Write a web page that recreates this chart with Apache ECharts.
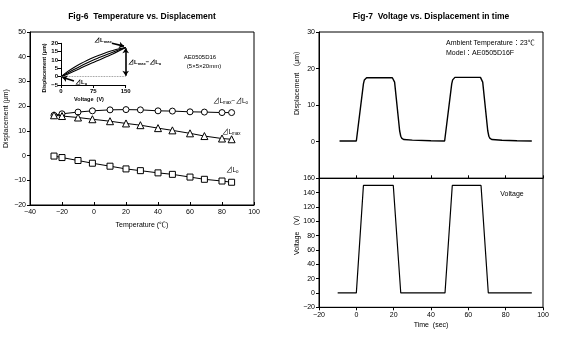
<!DOCTYPE html>
<html><head><meta charset="utf-8">
<script src="https://cdn.jsdelivr.net/npm/echarts@6/dist/echarts.min.js"></script>
<style>html,body{margin:0;padding:0;background:#fff}#c{width:570px;height:359px}</style>
</head><body><div id="c"></div>
<script>
// Fig-6 main: temperature vs displacement
const tempC = [-25,-20,-10,-1,10,20,29,40,49,60,69,80,86];
const dLdiff = [16.3,16.9,17.6,18.1,18.5,18.6,18.5,18.1,18.0,17.7,17.6,17.4,17.4];
const dLmax = [16.3,16.0,15.4,14.7,13.9,13.0,12.3,11.1,10.2,9.0,7.9,6.9,6.6];
const dLo = [-0.2,-0.8,-2.0,-3.1,-4.3,-5.4,-6.1,-7.0,-7.6,-8.7,-9.6,-10.3,-10.8];
// Fig-6 inset: voltage vs displacement (hysteresis)
const insetV = [0,15,30,45,60,75,90,105,120,135,150];
const insetUpper = [0,3.0,5.5,7.7,9.7,11.5,13.0,14.5,15.7,16.7,17.5];
const insetMiddle = [0,2.2,4.3,6.3,8.2,10.0,11.6,13.2,14.7,16.1,17.5];
const insetLower = [0,1.5,3.2,5.0,6.8,8.5,10.2,11.9,13.6,15.5,17.5];
// Fig-7 top: displacement in time
const timeDisp = [-9,0,3.8,4.3,4.8,5.5,19.3,19.9,20.5,23.2,23.8,24.4,25.5,30,40,47.3,51.1,51.6,52.1,52.8,66.5,67.1,67.7,70.4,71.0,71.6,72.7,78,86,94];
const disp = [0.2,0.2,15.8,16.9,17.3,17.5,17.5,17.2,16.3,3.0,1.5,0.9,0.6,0.45,0.25,0.2,15.8,16.9,17.3,17.6,17.6,17.3,16.3,3.0,1.5,0.9,0.6,0.4,0.25,0.2];
// Fig-7 bottom: voltage in time
const timeVolt = [-10,0,3.8,19.8,23.8,47.5,51.4,66.8,70.7,94];
const volt = [0,0,150,150,0,0,150,150,0,0];

const FONT = "'Liberation Sans', Arial, 'Noto Sans CJK JP', sans-serif";
const minus = v => String(v).replace('-', '\u2212');
const pair = (xs, ys) => xs.map((x, i) => [x, ys[i]]);

function axis(o) {
  return Object.assign({
    type: 'value',
    axisLine: {show: true, onZero: false, lineStyle: {color: '#000', width: 1}},
    axisTick: {show: true, inside: false, length: 3, lineStyle: {color: '#000'}},
    splitLine: {show: false},
    axisLabel: {color: '#000', fontSize: 7, fontFamily: FONT, margin: 4, formatter: minus}
  }, o);
}

const chart = echarts.init(document.getElementById('c'), null, {renderer: 'canvas'});
const markerStyle = {color: '#fff', borderColor: '#000', borderWidth: 1};
const lineBlack = {color: '#000', width: 1};
const sub = {
  n: {fontSize: 6.5, fontFamily: FONT, color: '#000'},
  s: {fontSize: 4.5, fontFamily: FONT, color: '#000', padding: [3, 0, 0, 0]}
};
const subB = {
  n: {fontSize: 6, fontFamily: FONT, color: '#000', fontWeight: 'bold'},
  s: {fontSize: 4, fontFamily: FONT, color: '#000', fontWeight: 'bold', padding: [3, 0, 0, 0]}
};
function txt(x, y, text, size, opts) {
  return {type: 'text', x: x, y: y, rotation: (opts && opts.rot) || 0,
    style: Object.assign({text: text, fill: '#000', font: ((opts && opts.bold) ? 'bold ' : '') + size + 'px ' + FONT,
      align: (opts && opts.align) || 'center', verticalAlign: 'middle'}, (opts && opts.rich) ? {rich: opts.rich} : {})};
}
const arrowSeg = (a, b, w) => [
  {coord: a, symbol: 'none', lineStyle: {type: 'solid', color: '#000', width: w}},
  {coord: b, symbol: 'arrow', symbolSize: 5, lineStyle: {type: 'solid', color: '#000', width: w}}
];

chart.setOption({
  animation: false,
  backgroundColor: '#fff',
  grid: [
    {left: 30, top: 32, width: 224, height: 173, show: true, borderColor: '#000', borderWidth: 1, backgroundColor: 'transparent'},
    {left: 61, top: 43.3, width: 64.7, height: 41.7},
    {left: 319, top: 32, width: 224, height: 146.3, show: true, borderColor: '#000', borderWidth: 1, backgroundColor: 'transparent'},
    {left: 319, top: 178.3, width: 224, height: 129, show: true, borderColor: '#000', borderWidth: 1, backgroundColor: 'transparent'}
  ],
  xAxis: [
    axis({gridIndex: 0, min: -40, max: 100, interval: 20, axisTick: {show: true, inside: true, length: 3, lineStyle: {color: '#000'}},
      name: 'Temperature (\u2103)', nameLocation: 'middle', nameGap: 17, nameTextStyle: {fontSize: 7, fontFamily: FONT, color: '#000'}}),
    axis({gridIndex: 1, min: 0, max: 150, interval: 75,
      axisLabel: {color: '#000', fontSize: 6, fontWeight: 'bold', fontFamily: FONT, margin: 3}}),
    axis({gridIndex: 2, min: -20, max: 100, interval: 20, axisLabel: {show: false},
      axisTick: {show: true, inside: true, length: 3, lineStyle: {color: '#000'}}}),
    axis({gridIndex: 3, min: -20, max: 100, interval: 20})
  ],
  yAxis: [
    axis({gridIndex: 0, min: -20, max: 50, interval: 10,
      name: 'Displacement (\u03bcm)', nameLocation: 'middle', nameGap: 20, nameTextStyle: {fontSize: 7, fontFamily: FONT, color: '#000'}}),
    axis({gridIndex: 1, min: -5, max: 20, interval: 5,
      axisLabel: {color: '#000', fontSize: 6, fontWeight: 'bold', fontFamily: FONT, margin: 3, formatter: minus}}),
    axis({gridIndex: 2, min: -10, max: 30, interval: 10,
      axisLabel: {color: '#000', fontSize: 7, fontFamily: FONT, margin: 4, formatter: v => v === -10 ? '' : minus(v)}}),
    axis({gridIndex: 3, min: -20, max: 160, interval: 20})
  ],
  series: [
    {type: 'line', xAxisIndex: 0, yAxisIndex: 0, data: pair(tempC, dLdiff), symbol: 'circle', symbolSize: 6,
      itemStyle: markerStyle, lineStyle: lineBlack, z: 3},
    {type: 'line', xAxisIndex: 0, yAxisIndex: 0, data: pair(tempC, dLmax), symbol: 'triangle', symbolSize: 7,
      itemStyle: markerStyle, lineStyle: lineBlack, z: 3},
    {type: 'line', xAxisIndex: 0, yAxisIndex: 0, data: pair(tempC, dLo), symbol: 'rect', symbolSize: 6,
      itemStyle: markerStyle, lineStyle: lineBlack, z: 3},
    {type: 'line', xAxisIndex: 1, yAxisIndex: 1, data: pair(insetV, insetUpper), symbol: 'none', smooth: 0.3,
      lineStyle: {color: '#000', width: 1.1}, clip: false,
      markLine: {silent: true, animation: false, label: {show: false}, symbolSize: 5,
        data: [
          [{coord: [0, 0], symbol: 'none', lineStyle: {type: 'dotted', color: '#777', width: 0.8}},
           {coord: [150, 0], symbol: 'none', lineStyle: {type: 'dotted', color: '#777', width: 0.8}}],
          [{coord: [150, 0.5], symbol: 'arrow', symbolSize: 5, lineStyle: {type: 'solid', color: '#000', width: 1.6}},
           {coord: [150, 17], symbol: 'arrow', symbolSize: 5, lineStyle: {type: 'solid', color: '#000', width: 1.6}}],
          arrowSeg([118, 20], [146, 18.3], 1.6),
          arrowSeg([30, -2.6], [3, -0.3], 1.6)
        ]}},
    {type: 'line', xAxisIndex: 1, yAxisIndex: 1, data: pair(insetV, insetMiddle), symbol: 'none', smooth: 0.3,
      lineStyle: {color: '#000', width: 1.1}},
    {type: 'line', xAxisIndex: 1, yAxisIndex: 1, data: pair(insetV, insetLower), symbol: 'none', smooth: 0.3,
      lineStyle: {color: '#000', width: 1.1}},
    {type: 'line', xAxisIndex: 2, yAxisIndex: 2, data: pair(timeDisp, disp), symbol: 'none',
      lineStyle: {color: '#000', width: 1.4}},
    {type: 'line', xAxisIndex: 3, yAxisIndex: 3, data: pair(timeVolt, volt), symbol: 'none',
      lineStyle: {color: '#000', width: 1.2}}
  ],
  graphic: [
    txt(142, 17, 'Fig-6  Temperature vs. Displacement', 8.5, {bold: true}),
    txt(431, 17, 'Fig-7  Voltage vs. Displacement in time', 8.5, {bold: true}),
    txt(200, 57, 'AE0505D16', 6, {}),
    txt(204, 66, '(5\u00d75\u00d720mm)', 6, {}),
    txt(213, 101, '{n|\u22bfL}{s|max}{n|\u2212\u22bfL}{s|o}', 6.5, {align: 'left', rich: sub}),
    txt(222, 132, '{n|\u22bfL}{s|max}', 6.5, {align: 'left', rich: sub}),
    txt(226, 170, '{n|\u22bfL}{s|o}', 6.5, {align: 'left', rich: sub}),
    txt(94, 40, '{n|\u22bfL}{s|max}', 6, {align: 'left', rich: subB}),
    txt(128, 62, '{n|\u22bfL}{s|max}{n|\u2212\u22bfL}{s|o}', 6, {align: 'left', rich: subB}),
    txt(75, 82, '{n|\u22bfL}{s|o}', 6, {align: 'left', rich: subB}),
    txt(44, 68, 'Displacement (\u03bcm)', 5.5, {bold: true, rot: Math.PI / 2}),
    txt(89, 99, 'Voltage  (V)', 5.5, {bold: true}),
    txt(446, 43, 'Ambient Temperature\uff1a23\u2103', 7, {align: 'left'}),
    txt(446, 53, 'Model\uff1aAE0505D16F', 7, {align: 'left'}),
    txt(512, 194, 'Voltage', 7, {}),
    txt(297, 81, 'Displacement \uff08\u03bcm\uff09', 7, {rot: Math.PI / 2}),
    txt(297, 233, 'Voltage \uff08V\uff09', 7, {rot: Math.PI / 2}),
    txt(431, 325, 'Time  (sec)', 7, {})
  ]
});
</script></body></html>
